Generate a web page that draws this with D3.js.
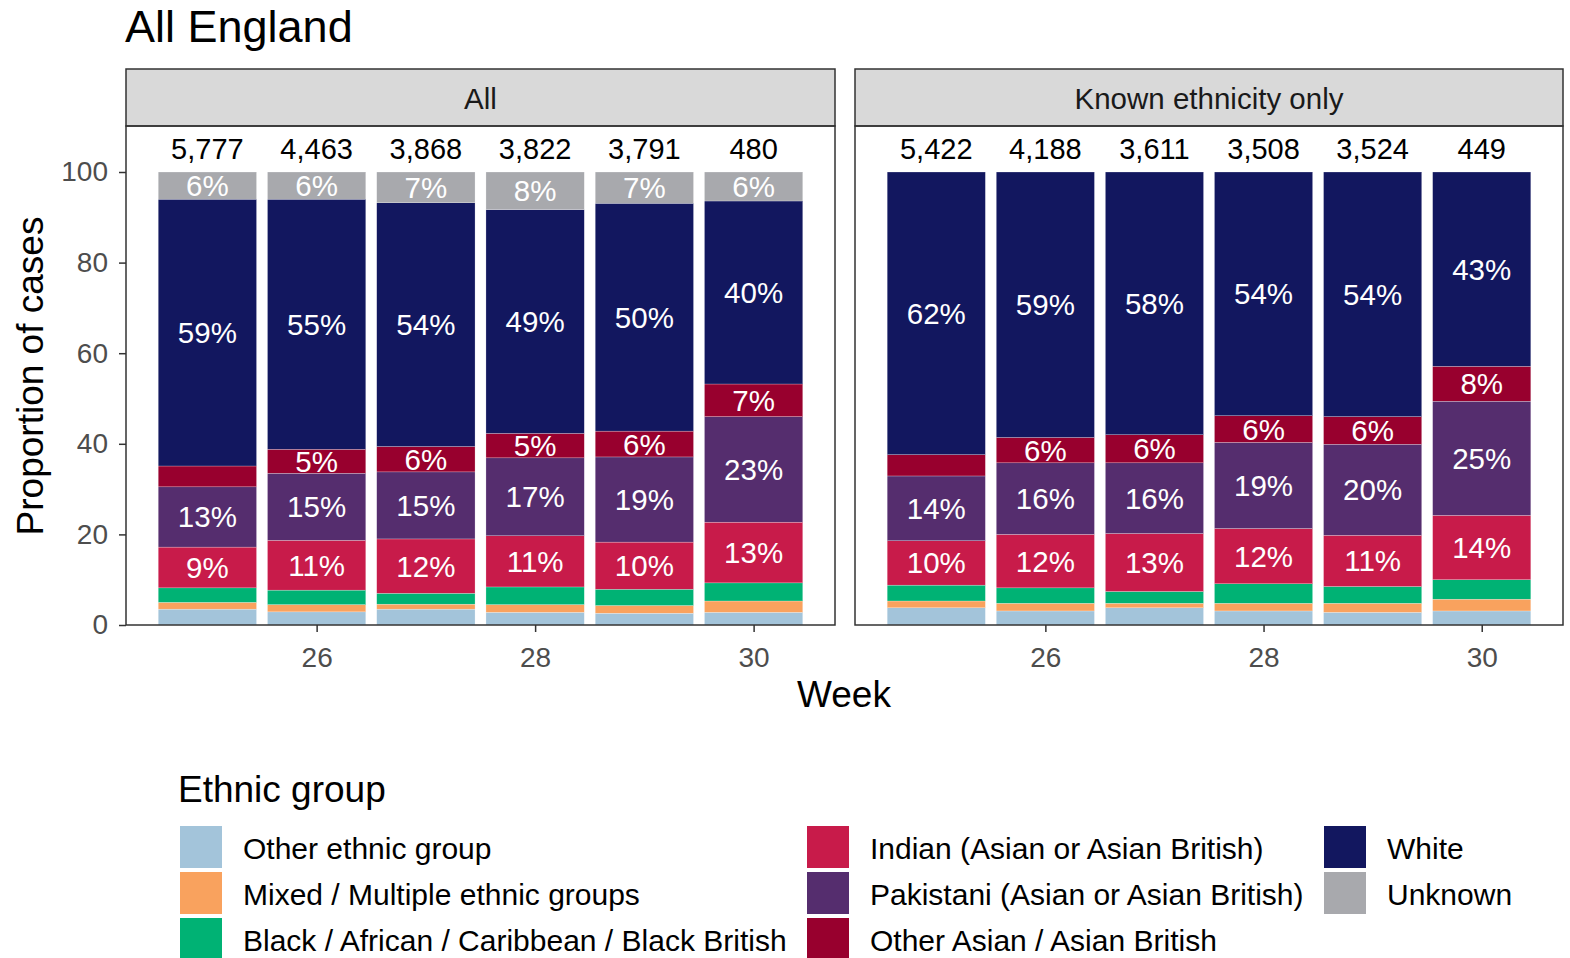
<!DOCTYPE html>
<html>
<head>
<meta charset="utf-8">
<script src="https://cdn.jsdelivr.net/npm/d3@7"></script>
<style>
  html, body { margin: 0; padding: 0; background: #fff; }
  text { font-family: "Liberation Sans", Arial, sans-serif; }
</style>
</head>
<body>
<svg id="chart" width="1570" height="958"></svg>
<script>
// ---------- DATA ----------
const weeks = [25, 26, 27, 28, 29, 30];
const panels = ["All", "Known ethnicity only"];
const groups = [
  "Other ethnic group",
  "Mixed / Multiple ethnic groups",
  "Black / African / Caribbean / Black British",
  "Indian (Asian or Asian British)",
  "Pakistani (Asian or Asian British)",
  "Other Asian / Asian British",
  "White",
  "Unknown"
];
const groupColors = ["#a3c4da", "#f9a25e", "#00b274", "#c81b4a", "#552d6e", "#98002e", "#12175f", "#a8a9ad"];

// percentages per week (rows: weeks 25..30), columns in group order
const allValues = [
  [3.5, 1.5, 3.2, 9.0, 13.3, 4.6, 58.9, 6.0],
  [2.9, 1.6, 3.2, 11.0, 14.8, 5.3, 55.2, 6.0],
  [3.5, 1.1, 2.4, 12.0, 14.8, 5.6, 53.8, 6.8],
  [2.8, 1.7, 3.9, 11.3, 17.2, 5.4, 49.4, 8.3],
  [2.6, 1.7, 3.6, 10.4, 18.8, 5.7, 50.3, 6.9],
  [2.8, 2.5, 4.0, 13.4, 23.3, 7.2, 40.4, 6.4]
];
const knownValues = [
  [3.8, 1.5, 3.5, 9.8, 14.3, 4.7, 62.4, 0],
  [3.1, 1.7, 3.4, 11.8, 15.8, 5.6, 58.6, 0],
  [3.8, 1.0, 2.6, 12.8, 15.6, 6.2, 58.0, 0],
  [3.1, 1.7, 4.3, 12.2, 19.0, 5.9, 53.8, 0],
  [2.8, 2.0, 3.7, 11.3, 20.1, 6.1, 54.0, 0],
  [3.1, 2.6, 4.3, 14.2, 25.2, 7.7, 42.9, 0]
];
const allTotals = ["5,777", "4,463", "3,868", "3,822", "3,791", "480"];
const knownTotals = ["5,422", "4,188", "3,611", "3,508", "3,524", "449"];
const yTicks = [0, 20, 40, 60, 80, 100];
const xTicks = [26, 28, 30];

// ---------- LAYOUT ----------
const svg = d3.select("#chart");
const panelBoxes = [
  {x0: 126, x1: 835, values: allValues, totals: allTotals},
  {x0: 855, x1: 1563, values: knownValues, totals: knownTotals}
];
const plotTop = 126, plotBottom = 625, stripTop = 69;
const y = d3.scaleLinear().domain([0, 100]).range([625, 172]);
const barW = 0.9;

svg.append("text").attr("x", 125).attr("y", 26)
  .attr("dominant-baseline", "central")
  .attr("font-size", 45).attr("fill", "#000").text("All England");

panelBoxes.forEach((p, pi) => {
  const x = d3.scaleLinear().domain([24.255, 30.745]).range([p.x0, p.x1]);
  const g = svg.append("g");

  // strip
  g.append("rect").attr("x", p.x0).attr("y", stripTop)
    .attr("width", p.x1 - p.x0).attr("height", plotTop - stripTop)
    .attr("fill", "#d9d9d9").attr("stroke", "#333").attr("stroke-width", 1.5);
  g.append("text").attr("x", (p.x0 + p.x1) / 2).attr("y", 98)
    .attr("text-anchor", "middle").attr("dominant-baseline", "central")
    .attr("font-size", 29.5).attr("fill", "#1a1a1a").text(panels[pi]);

  // bars
  const stacked = d3.stack().keys(d3.range(groups.length))(p.values);
  stacked.forEach((layer, gi) => {
    layer.forEach((seg, wi) => {
      const v = seg[1] - seg[0];
      if (v <= 0) return;
      const xl = x(weeks[wi] - barW / 2), xr = x(weeks[wi] + barW / 2);
      g.append("rect").attr("x", xl).attr("y", y(seg[1]))
        .attr("width", xr - xl).attr("height", y(seg[0]) - y(seg[1]))
        .attr("fill", groupColors[gi]).attr("stroke", "#ffffff").attr("stroke-width", 0.4).attr("stroke-opacity", 0.6);
    });
  });
  // labels
  stacked.forEach((layer, gi) => {
    layer.forEach((seg, wi) => {
      const v = seg[1] - seg[0];
      if (v < 5) return;
      g.append("text").attr("x", x(weeks[wi])).attr("y", y((seg[0] + seg[1]) / 2))
        .attr("text-anchor", "middle").attr("dominant-baseline", "central")
        .attr("font-size", 29.5).attr("fill", "#fff").text(Math.round(v) + "%");
    });
  });
  // totals
  p.totals.forEach((t, wi) => {
    g.append("text").attr("x", x(weeks[wi])).attr("y", y(105))
      .attr("text-anchor", "middle").attr("dominant-baseline", "central")
      .attr("font-size", 29).attr("fill", "#000").text(t);
  });

  // panel border
  g.append("rect").attr("x", p.x0).attr("y", plotTop)
    .attr("width", p.x1 - p.x0).attr("height", plotBottom - plotTop)
    .attr("fill", "none").attr("stroke", "#333").attr("stroke-width", 1.5);

  // x axis
  const xa = g.append("g").attr("transform", `translate(0,${plotBottom})`)
    .call(d3.axisBottom(x).tickValues(xTicks).tickSize(7).tickPadding(8).tickFormat(d3.format("d")));
  xa.select(".domain").remove();
  xa.selectAll(".tick line").attr("stroke", "#333").attr("stroke-width", 1.5);
  xa.selectAll(".tick text").attr("font-size", 28).attr("fill", "#4d4d4d")
    .attr("y", 32).attr("dy", null).attr("dominant-baseline", "central")
    .attr("font-family", "Liberation Sans, Arial, sans-serif");

  if (pi === 0) {
    const ya = g.append("g").attr("transform", `translate(${p.x0},0)`)
      .call(d3.axisLeft(y).tickValues(yTicks).tickSize(7).tickPadding(11));
    ya.select(".domain").remove();
    ya.selectAll(".tick line").attr("stroke", "#333").attr("stroke-width", 1.5);
    ya.selectAll(".tick text").attr("font-size", 28).attr("fill", "#4d4d4d")
      .attr("font-family", "Liberation Sans, Arial, sans-serif");
  }
});

// axis titles
svg.append("text").attr("x", 844).attr("y", 694)
  .attr("text-anchor", "middle").attr("dominant-baseline", "central")
  .attr("font-size", 37).attr("fill", "#000").text("Week");
svg.append("text").attr("transform", "translate(30,376) rotate(-90)")
  .attr("text-anchor", "middle").attr("dominant-baseline", "central")
  .attr("font-size", 37).attr("fill", "#000").text("Proportion of cases");

// legend
svg.append("text").attr("x", 178).attr("y", 789)
  .attr("dominant-baseline", "central")
  .attr("font-size", 37).attr("fill", "#000").text("Ethnic group");
const colX = [180, 807, 1324];
const rowY = [826, 872, 918];
groups.forEach((name, i) => {
  const c = Math.floor(i / 3), r = i % 3;
  svg.append("rect").attr("x", colX[c]).attr("y", rowY[r])
    .attr("width", 42).attr("height", 42).attr("fill", groupColors[i]);
  svg.append("text").attr("x", colX[c] + 63).attr("y", rowY[r] + 22)
    .attr("dominant-baseline", "central")
    .attr("font-size", 30).attr("fill", "#000").text(name);
});
</script>
</body>
</html>
